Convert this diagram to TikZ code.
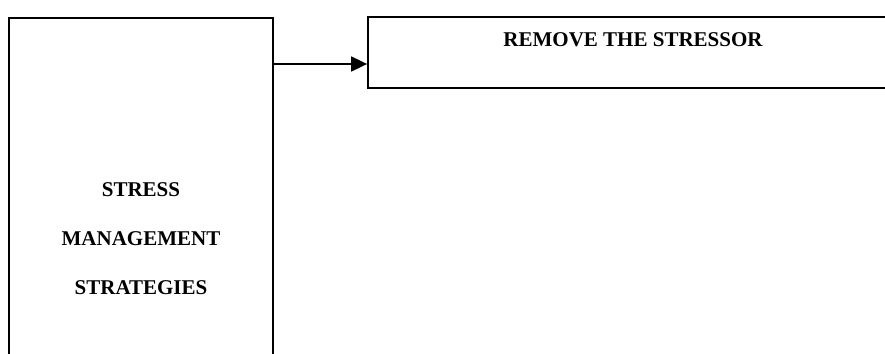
\documentclass[tikz,border=0pt]{standalone}
\usepackage{fontspec}
\setmainfont{Liberation Serif}
\usetikzlibrary{arrows.meta}
\begin{document}
\begin{tikzpicture}[x=1pt,y=-1pt,
  box/.style={draw=black,line width=1.8pt,rectangle,inner sep=0pt,
    font=\bfseries\fontsize{21}{49}\selectfont},
  link/.style={line width=1.8pt,-{Triangle[length=16pt,width=15pt]}}]
  \useasboundingbox (0,0) rectangle (885,353);
  \clip (0,0) rectangle (885,353);
  % strategy box, running past the lower edge
  \node[box,align=center,minimum width=264pt,minimum height=441pt,
        text width=264pt] (L) at (141,238.5)
        {STRESS\\MANAGEMENT\\STRATEGIES};
  % first strategy, running past the right edge
  \node[box,minimum width=530pt,text height=30.3pt,text depth=41.3pt] (R)
        at (633,52.5) {REMOVE THE STRESSOR};
  \coordinate (ay) at (0,64);
  \draw[link] (L.east |- ay) -- (R.west |- ay);
\end{tikzpicture}
\end{document}
